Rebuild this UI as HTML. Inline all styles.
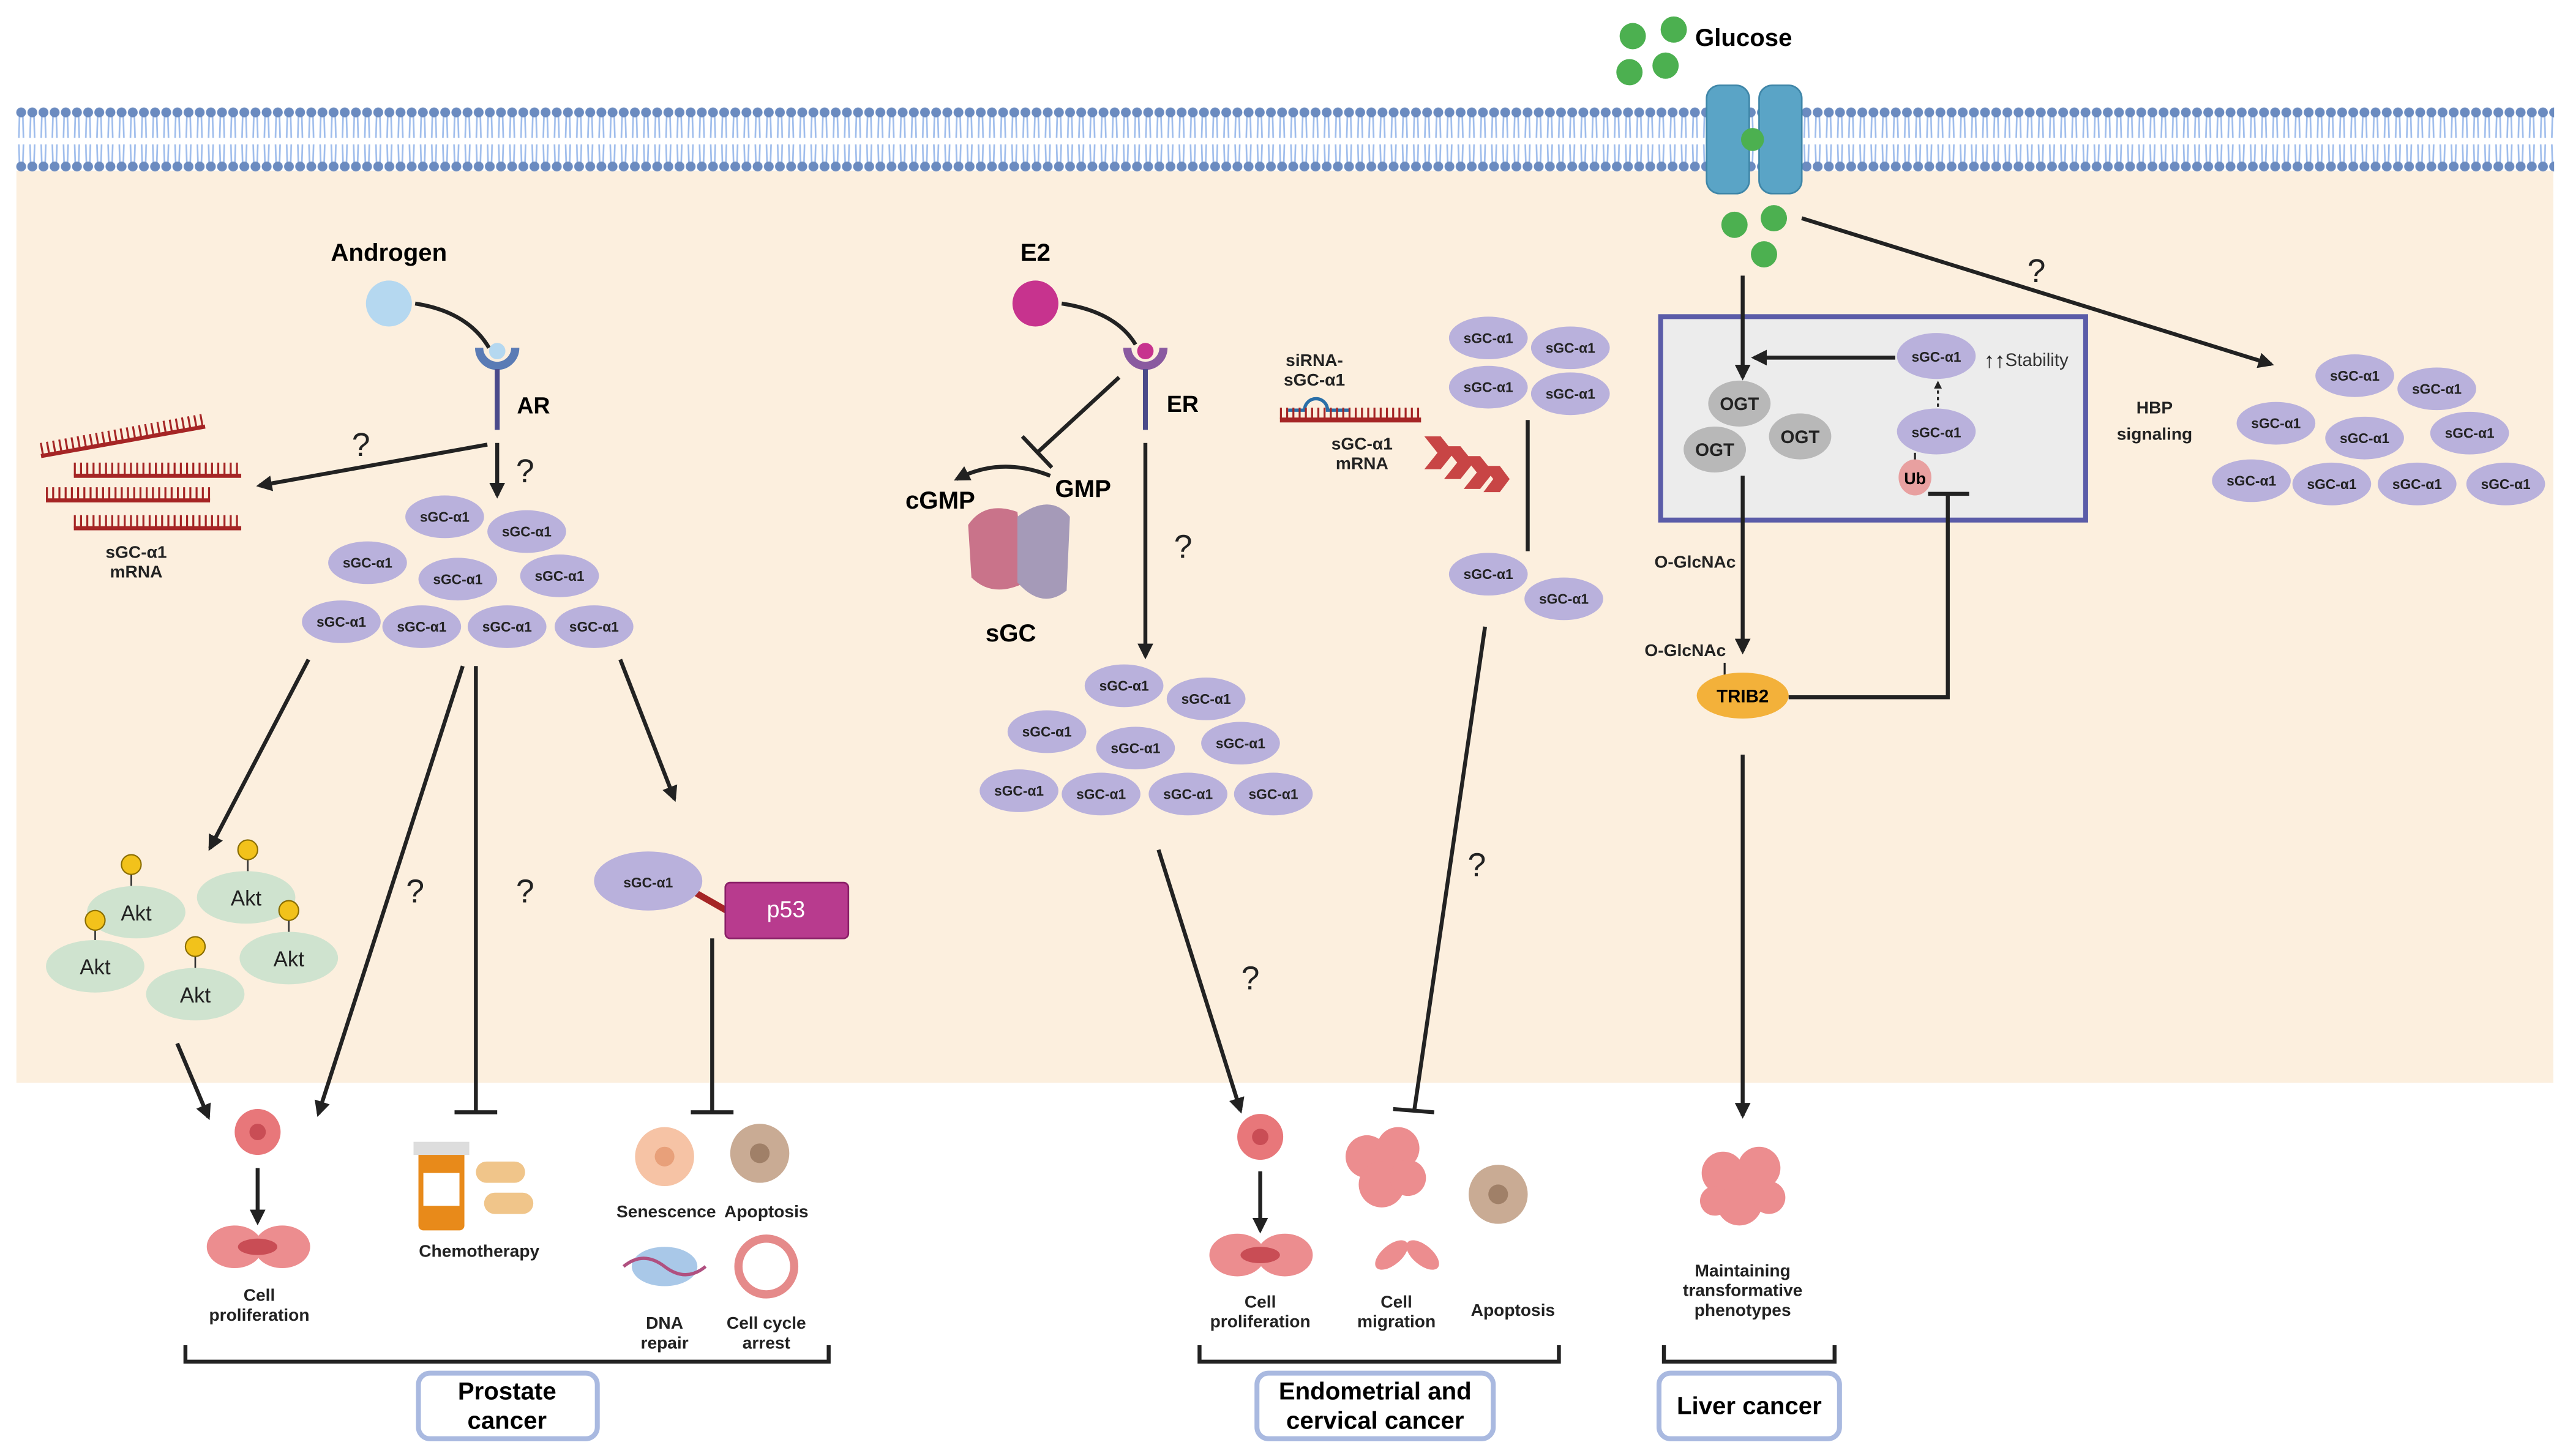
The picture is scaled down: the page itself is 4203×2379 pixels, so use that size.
<!DOCTYPE html>
<html><head><meta charset="utf-8"><style>
html,body{margin:0;padding:0;background:#fff}
svg{display:block}
text{font-family:"Liberation Sans",sans-serif}
.b{font-weight:bold}
.o{fill:#b9b1dc}
.ot{font-size:8.5px;font-weight:bold;text-anchor:middle;fill:#222}
.l{stroke:#222;stroke-width:2.4;fill:none}
.q{font-size:20px;text-anchor:middle;fill:#222}
.s{font-size:10.5px;font-weight:bold;text-anchor:middle;fill:#222}
</style></head><body>
<svg width="4203" height="2379" viewBox="0 0 1568 887.5" xmlns="http://www.w3.org/2000/svg">
<defs>
<marker id="a" viewBox="0 0 10 10" refX="8" refY="5" markerWidth="4" markerHeight="4" orient="auto"><path d="M0,0L10,5L0,10z" fill="#222"/></marker>
<pattern id="mem" x="9.5" y="0" width="6.8" height="120" patternUnits="userSpaceOnUse">
<path d="M2.4,70 L2,84 M4.4,70 L4.8,84 M2,88 L2.4,101 M4.8,88 L4.4,101" stroke="#9fbdec" stroke-width="1" fill="none"/>
<circle cx="3.4" cy="68.5" r="3" fill="#6b8bc0"/>
<circle cx="3.4" cy="101.5" r="3" fill="#6b8bc0"/>
</pattern>
</defs>
<rect x="10" y="104" width="1546" height="556" fill="#fcefde"/>
<rect x="9.5" y="64" width="1547" height="42" fill="url(#mem)"/>
<!-- glucose channel -->
<rect x="1040" y="52" width="26" height="66" rx="8" fill="#5aa4c6" stroke="#3f86a8"/>
<rect x="1072" y="52" width="26" height="66" rx="8" fill="#5aa4c6" stroke="#3f86a8"/>
<g fill="#4cb050"><circle cx="995" cy="22" r="8"/><circle cx="1020" cy="18" r="8"/><circle cx="993" cy="44" r="8"/><circle cx="1015" cy="40" r="8"/><circle cx="1068" cy="85" r="7"/><circle cx="1057" cy="137" r="8"/><circle cx="1081" cy="133" r="8"/><circle cx="1075" cy="155" r="8"/></g>
<text x="1033" y="28" class="b" font-size="15">Glucose</text>

<!-- Prostate -->
<text x="237" y="159" class="b" font-size="15" text-anchor="middle">Androgen</text>
<circle cx="237" cy="185" r="14" fill="#b5d8f0"/>
<path d="M253,185 Q285,190 298,212" class="l" stroke-width="1.8"/>
<path d="M292,212 A11,11 0 0 0 314,212" stroke="#5a7bb5" stroke-width="5" fill="none"/>
<circle cx="303" cy="214" r="5" fill="#b5d8f0"/>
<line x1="303" y1="225" x2="303" y2="262" stroke="#4a4a8a" stroke-width="3"/>
<text x="315" y="252" class="b" font-size="14">AR</text>
<g stroke="#a52525" stroke-width="2.5">
<line x1="25" y1="278" x2="125" y2="260"/><line x1="45" y1="290" x2="147" y2="290"/><line x1="28" y1="305" x2="128" y2="305"/><line x1="45" y1="322" x2="147" y2="322"/></g>
<g stroke="#a52525" stroke-width="8" stroke-dasharray="1.2 2.6"><line x1="25" y1="274" x2="125" y2="256"/><line x1="45" y1="286" x2="147" y2="286"/><line x1="28" y1="301" x2="128" y2="301"/><line x1="45" y1="318" x2="147" y2="318"/></g>
<text x="83" y="340" class="s" font-size="9.5">sGC-α1</text><text x="83" y="352" class="s" font-size="9.5">mRNA</text>
<line x1="297" y1="271" x2="158" y2="296" class="l" marker-end="url(#a)"/>
<text x="220" y="278" class="q">?</text>
<line x1="303" y1="270" x2="303" y2="302" class="l" marker-end="url(#a)"/>
<text x="320" y="294" class="q">?</text>
<g>
<ellipse class="o" cx="271" cy="315" rx="24" ry="13"/><ellipse class="o" cx="321" cy="324" rx="24" ry="13"/><ellipse class="o" cx="224" cy="343" rx="24" ry="13"/><ellipse class="o" cx="279" cy="353" rx="24" ry="13"/><ellipse class="o" cx="341" cy="351" rx="24" ry="13"/><ellipse class="o" cx="208" cy="379" rx="24" ry="13"/><ellipse class="o" cx="257" cy="382" rx="24" ry="13"/><ellipse class="o" cx="309" cy="382" rx="24" ry="13"/><ellipse class="o" cx="362" cy="382" rx="24" ry="13"/>
<text class="ot" x="271" y="318">sGC-α1</text><text class="ot" x="321" y="327">sGC-α1</text><text class="ot" x="224" y="346">sGC-α1</text><text class="ot" x="279" y="356">sGC-α1</text><text class="ot" x="341" y="354">sGC-α1</text><text class="ot" x="208" y="382">sGC-α1</text><text class="ot" x="257" y="385">sGC-α1</text><text class="ot" x="309" y="385">sGC-α1</text><text class="ot" x="362" y="385">sGC-α1</text>
</g>
<line x1="188" y1="402" x2="128" y2="517" class="l" marker-end="url(#a)"/>
<line x1="282" y1="406" x2="194" y2="679" class="l" marker-end="url(#a)"/>
<text x="253" y="550" class="q">?</text>
<line x1="290" y1="406" x2="290" y2="678" class="l"/><line x1="277" y1="678" x2="303" y2="678" class="l" stroke-width="3"/>
<text x="320" y="550" class="q">?</text>
<line x1="378" y1="402" x2="411" y2="487" class="l" marker-end="url(#a)"/>
<!-- Akt -->
<g fill="#cfe3cf"><ellipse cx="150" cy="547" rx="30" ry="16"/><ellipse cx="83" cy="556" rx="30" ry="16"/><ellipse cx="58" cy="589" rx="30" ry="16"/><ellipse cx="176" cy="584" rx="30" ry="16"/><ellipse cx="119" cy="606" rx="30" ry="16"/></g>
<g font-size="13" text-anchor="middle" fill="#222"><text x="150" y="552">Akt</text><text x="83" y="561">Akt</text><text x="58" y="594">Akt</text><text x="176" y="589">Akt</text><text x="119" y="611">Akt</text></g>
<g stroke="#333" stroke-width="1"><line x1="80" y1="527" x2="80" y2="540"/><line x1="151" y1="518" x2="151" y2="531"/><line x1="58" y1="561" x2="58" y2="573"/><line x1="176" y1="555" x2="176" y2="568"/><line x1="119" y1="577" x2="119" y2="590"/></g>
<g fill="#f2c21b" stroke="#8a6d00" stroke-width="0.8"><circle cx="80" cy="527" r="6"/><circle cx="151" cy="518" r="6"/><circle cx="58" cy="561" r="6"/><circle cx="176" cy="555" r="6"/><circle cx="119" cy="577" r="6"/></g>
<line x1="108" y1="636" x2="127" y2="681" class="l" marker-end="url(#a)"/>
<!-- p53 -->
<line x1="420" y1="542" x2="448" y2="558" stroke="#a52525" stroke-width="4"/>
<ellipse class="o" cx="395" cy="537" rx="33" ry="18"/><text x="395" y="541" class="ot" font-size="11">sGC-α1</text>
<rect x="442" y="538" width="75" height="34" rx="3" fill="#b83b8e" stroke="#8a2068"/>
<text x="479" y="559" font-size="14" fill="#fff" text-anchor="middle">p53</text>
<line x1="434" y1="572" x2="434" y2="678" class="l"/><line x1="421" y1="678" x2="447" y2="678" class="l" stroke-width="3"/>
<!-- prostate outcomes -->
<circle cx="157" cy="690" r="14" fill="#e8777a"/><circle cx="157" cy="690" r="5" fill="#c94d55"/>
<line x1="157" y1="712" x2="157" y2="745" class="l" stroke-width="1.5" marker-end="url(#a)"/>
<ellipse cx="143" cy="760" rx="17" ry="13" fill="#ec8d8f"/><ellipse cx="172" cy="760" rx="17" ry="13" fill="#ec8d8f"/><ellipse cx="157" cy="760" rx="12" ry="5" fill="#c94d55"/>
<text x="158" y="793" class="s">Cell</text><text x="158" y="805" class="s">proliferation</text>
<rect x="255" y="700" width="28" height="50" rx="3" fill="#e88a1a"/><rect x="252" y="696" width="34" height="8" fill="#ddd"/><rect x="258" y="715" width="22" height="20" fill="#fff"/>
<rect x="290" y="708" width="30" height="13" rx="6.5" fill="#f0c58a"/><rect x="295" y="727" width="30" height="13" rx="6.5" fill="#f0c58a"/>
<text x="292" y="766" class="s">Chemotherapy</text>
<circle cx="405" cy="705" r="18" fill="#f6c3a5"/><circle cx="405" cy="705" r="6" fill="#e8a07a"/>
<circle cx="463" cy="703" r="18" fill="#c9ab94"/><circle cx="463" cy="703" r="6" fill="#a08068"/>
<text x="406" y="742" class="s">Senescence</text><text x="467" y="742" class="s">Apoptosis</text>
<ellipse cx="405" cy="772" rx="20" ry="12" fill="#a9c8e8"/><path d="M380,772 Q392,762 405,772 T430,772" stroke="#b05080" stroke-width="2" fill="none"/>
<circle cx="467" cy="772" r="17" fill="none" stroke="#e58a8a" stroke-width="5"/>
<text x="405" y="810" class="s">DNA</text><text x="405" y="822" class="s">repair</text>
<text x="467" y="810" class="s">Cell cycle</text><text x="467" y="822" class="s">arrest</text>
<path d="M113,820 V830 H505 V820" class="l" stroke-width="1.8"/>
<rect x="255" y="837" width="109" height="40" rx="7" fill="#fff" stroke="#a9b9e0" stroke-width="3"/>
<text x="309" y="853" class="b" font-size="15" text-anchor="middle">Prostate</text><text x="309" y="871" class="b" font-size="15" text-anchor="middle">cancer</text>

<!-- E2 -->
<text x="631" y="159" class="b" font-size="15" text-anchor="middle">E2</text>
<circle cx="631" cy="185" r="14" fill="#c7338e"/>
<path d="M647,185 Q680,190 692,210" class="l" stroke-width="1.8"/>
<path d="M687,212 A11,11 0 0 0 709,212" stroke="#8a5aa0" stroke-width="5" fill="none"/>
<circle cx="698" cy="214" r="5" fill="#c7338e"/>
<line x1="698" y1="225" x2="698" y2="262" stroke="#4a4a8a" stroke-width="3"/>
<text x="711" y="251" class="b" font-size="14">ER</text>
<line x1="682" y1="230" x2="632" y2="276" class="l"/><line x1="623" y1="266" x2="641" y2="285" class="l" stroke-width="3"/>
<path d="M640,290 Q610,278 583,292" class="l" stroke-width="1.8" marker-end="url(#a)"/>
<path d="M590,320 Q600,305 620,312 L625,355 Q605,365 592,352z" fill="#c9738a"/>
<path d="M620,315 Q640,300 652,315 L650,360 Q635,372 620,355z" fill="#a59ab8"/>
<text x="573" y="310" class="b" font-size="15" text-anchor="middle">cGMP</text>
<text x="660" y="303" class="b" font-size="15" text-anchor="middle">GMP</text>
<text x="616" y="391" class="b" font-size="15" text-anchor="middle">sGC</text>
<line x1="698" y1="270" x2="698" y2="400" class="l" marker-end="url(#a)"/>
<text x="721" y="340" class="q">?</text>
<g>
<ellipse class="o" cx="685" cy="418" rx="24" ry="13"/><ellipse class="o" cx="735" cy="426" rx="24" ry="13"/><ellipse class="o" cx="638" cy="446" rx="24" ry="13"/><ellipse class="o" cx="692" cy="456" rx="24" ry="13"/><ellipse class="o" cx="756" cy="453" rx="24" ry="13"/><ellipse class="o" cx="621" cy="482" rx="24" ry="13"/><ellipse class="o" cx="671" cy="484" rx="24" ry="13"/><ellipse class="o" cx="724" cy="484" rx="24" ry="13"/><ellipse class="o" cx="776" cy="484" rx="24" ry="13"/>
<text class="ot" x="685" y="421">sGC-α1</text><text class="ot" x="735" y="429">sGC-α1</text><text class="ot" x="638" y="449">sGC-α1</text><text class="ot" x="692" y="459">sGC-α1</text><text class="ot" x="756" y="456">sGC-α1</text><text class="ot" x="621" y="485">sGC-α1</text><text class="ot" x="671" y="487">sGC-α1</text><text class="ot" x="724" y="487">sGC-α1</text><text class="ot" x="776" y="487">sGC-α1</text>
</g>
<line x1="706" y1="518" x2="756" y2="677" class="l" marker-end="url(#a)"/>
<text x="762" y="603" class="q">?</text>
<!-- siRNA -->
<text x="801" y="223" class="s" font-size="9.5">siRNA-</text><text x="801" y="235" class="s" font-size="9.5">sGC-α1</text>
<path d="M785,250 H795 A7,7 0 0 1 809,250 H822" stroke="#2a6fa8" stroke-width="2" fill="none"/>
<line x1="780" y1="256" x2="866" y2="256" stroke="#a52525" stroke-width="3"/>
<line x1="780" y1="252" x2="866" y2="252" stroke="#a52525" stroke-width="7" stroke-dasharray="1.2 2.6"/>
<text x="830" y="274" class="s" font-size="9.5">sGC-α1</text><text x="830" y="286" class="s" font-size="9.5">mRNA</text>
<g fill="#c84545"><path d="M868,266 l10,0 l8,10 l-8,10 l-10,0 l8,-10z"/><path d="M880,272 l10,0 l8,10 l-8,10 l-10,0 l8,-10z"/><path d="M892,278 l10,0 l8,10 l-8,10 l-10,0 l8,-10z"/><path d="M904,284 l10,0 l6,8 l-6,8 l-10,0 l6,-8z"/></g>
<g>
<ellipse class="o" cx="907" cy="206" rx="24" ry="13"/><ellipse class="o" cx="957" cy="212" rx="24" ry="13"/><ellipse class="o" cx="907" cy="236" rx="24" ry="13"/><ellipse class="o" cx="957" cy="240" rx="24" ry="13"/><ellipse class="o" cx="907" cy="350" rx="24" ry="13"/><ellipse class="o" cx="953" cy="365" rx="24" ry="13"/>
<text class="ot" x="907" y="209">sGC-α1</text><text class="ot" x="957" y="215">sGC-α1</text><text class="ot" x="907" y="239">sGC-α1</text><text class="ot" x="957" y="243">sGC-α1</text><text class="ot" x="907" y="353">sGC-α1</text><text class="ot" x="953" y="368">sGC-α1</text>
</g>
<line x1="931" y1="256" x2="931" y2="336" class="l" stroke-width="1.5"/>
<line x1="905" y1="382" x2="862" y2="676" class="l"/><line x1="849" y1="676" x2="874" y2="678" class="l" stroke-width="3"/>
<text x="900" y="534" class="q">?</text>
<!-- endometrial outcomes -->
<circle cx="768" cy="693" r="14" fill="#e8777a"/><circle cx="768" cy="693" r="5" fill="#c94d55"/>
<line x1="768" y1="714" x2="768" y2="750" class="l" stroke-width="1.5" marker-end="url(#a)"/>
<ellipse cx="754" cy="765" rx="17" ry="13" fill="#ec8d8f"/><ellipse cx="783" cy="765" rx="17" ry="13" fill="#ec8d8f"/><ellipse cx="768" cy="765" rx="12" ry="5" fill="#c94d55"/>
<text x="768" y="797" class="s">Cell</text><text x="768" y="809" class="s">proliferation</text>
<g fill="#ec8d8f"><circle cx="833" cy="705" r="13"/><circle cx="852" cy="700" r="13"/><circle cx="842" cy="722" r="14"/><circle cx="858" cy="718" r="11"/></g>
<ellipse cx="848" cy="765" rx="12" ry="6" fill="#ec8d8f" transform="rotate(-40 848 765)"/><ellipse cx="867" cy="765" rx="12" ry="6" fill="#ec8d8f" transform="rotate(40 867 765)"/>
<text x="851" y="797" class="s">Cell</text><text x="851" y="809" class="s">migration</text>
<circle cx="913" cy="728" r="18" fill="#c9ab94"/><circle cx="913" cy="728" r="6" fill="#a08068"/>
<text x="922" y="802" class="s">Apoptosis</text>
<path d="M731,820 V830 H950 V820" class="l" stroke-width="1.8"/>
<rect x="766" y="837" width="144" height="40" rx="7" fill="#fff" stroke="#a9b9e0" stroke-width="3"/>
<text x="838" y="853" class="b" font-size="15" text-anchor="middle">Endometrial and</text><text x="838" y="871" class="b" font-size="15" text-anchor="middle">cervical cancer</text>

<!-- Liver -->
<rect x="1012" y="193" width="259" height="124" fill="#ececec" stroke="#5b5ca8" stroke-width="3"/>
<line x1="1062" y1="168" x2="1062" y2="230" class="l" marker-end="url(#a)"/>
<line x1="1155" y1="218" x2="1069" y2="218" class="l" marker-end="url(#a)"/>
<g fill="#b8b8b8"><ellipse cx="1060" cy="246" rx="19" ry="14"/><ellipse cx="1097" cy="266" rx="19" ry="14"/><ellipse cx="1045" cy="274" rx="19" ry="14"/></g>
<g font-size="11" font-weight="bold" text-anchor="middle" fill="#222"><text x="1060" y="250">OGT</text><text x="1097" y="270">OGT</text><text x="1045" y="278">OGT</text></g>
<ellipse class="o" cx="1180" cy="217" rx="24" ry="14"/><text class="ot" x="1180" y="220.5" font-size="10">sGC-α1</text>
<ellipse class="o" cx="1180" cy="263" rx="24" ry="14"/><text class="ot" x="1180" y="266.5" font-size="10">sGC-α1</text>
<line x1="1181" y1="248" x2="1181" y2="233" stroke="#222" stroke-width="1.2" stroke-dasharray="2 2" marker-end="url(#a)"/>
<text x="1209" y="224" font-size="13" fill="#222">↑↑</text><text x="1222" y="223" font-size="11" fill="#333">Stability</text>
<line x1="1167" y1="276" x2="1167" y2="283" stroke="#222" stroke-width="1.2"/>
<ellipse cx="1167" cy="291" rx="10" ry="11" fill="#e8a0a0"/><text x="1167" y="295" font-size="10" font-weight="bold" text-anchor="middle">Ub</text>
<line x1="1062" y1="290" x2="1062" y2="397" class="l" marker-end="url(#a)"/>
<text x="1033" y="346" class="s">O-GlcNAc</text><text x="1027" y="400" class="s">O-GlcNAc</text>
<line x1="1051" y1="404" x2="1051" y2="413" stroke="#222" stroke-width="1.2"/>
<ellipse cx="1062" cy="424" rx="28" ry="14" fill="#f3b13a"/><text x="1062" y="428" font-size="11" font-weight="bold" text-anchor="middle">TRIB2</text>
<path d="M1090,425 H1187 V301" class="l"/><line x1="1175" y1="301" x2="1200" y2="301" class="l" stroke-width="3"/>
<text x="1313" y="252" class="s" font-size="13">HBP</text><text x="1313" y="268" class="s" font-size="13">signaling</text>
<line x1="1098" y1="133" x2="1384" y2="222" class="l" marker-end="url(#a)"/>
<text x="1241" y="172" class="q">?</text>
<g>
<ellipse class="o" cx="1435" cy="229" rx="24" ry="13"/><ellipse class="o" cx="1485" cy="237" rx="24" ry="13"/><ellipse class="o" cx="1387" cy="258" rx="24" ry="13"/><ellipse class="o" cx="1441" cy="267" rx="24" ry="13"/><ellipse class="o" cx="1505" cy="264" rx="24" ry="13"/><ellipse class="o" cx="1372" cy="293" rx="24" ry="13"/><ellipse class="o" cx="1421" cy="295" rx="24" ry="13"/><ellipse class="o" cx="1473" cy="295" rx="24" ry="13"/><ellipse class="o" cx="1527" cy="295" rx="24" ry="13"/>
<text class="ot" x="1435" y="232">sGC-α1</text><text class="ot" x="1485" y="240">sGC-α1</text><text class="ot" x="1387" y="261">sGC-α1</text><text class="ot" x="1441" y="270">sGC-α1</text><text class="ot" x="1505" y="267">sGC-α1</text><text class="ot" x="1372" y="296">sGC-α1</text><text class="ot" x="1421" y="298">sGC-α1</text><text class="ot" x="1473" y="298">sGC-α1</text><text class="ot" x="1527" y="298">sGC-α1</text>
</g>
<line x1="1062" y1="460" x2="1062" y2="680" class="l" marker-end="url(#a)"/>
<g fill="#ec8d8f"><circle cx="1050" cy="715" r="13"/><circle cx="1072" cy="712" r="13"/><circle cx="1060" cy="733" r="14"/><circle cx="1078" cy="730" r="10"/><circle cx="1045" cy="732" r="9"/></g>
<text x="1062" y="778" class="s">Maintaining</text><text x="1062" y="790" class="s">transformative</text><text x="1062" y="802" class="s">phenotypes</text>
<path d="M1014,820 V830 H1118 V820" class="l" stroke-width="1.8"/>
<rect x="1011" y="837" width="110" height="40" rx="7" fill="#fff" stroke="#a9b9e0" stroke-width="3"/>
<text x="1066" y="862" class="b" font-size="15" text-anchor="middle">Liver cancer</text>
</svg>
</body></html>
